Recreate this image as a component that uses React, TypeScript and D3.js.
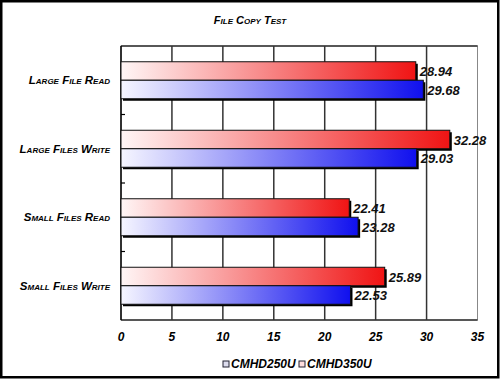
import React from "react";
import * as d3 from "d3";

const categories = ["Large File Read", "Large Files Write", "Small Files Read", "Small Files Write"];
const seriesNames = ["CMHD250U", "CMHD350U"];
const cmhd250u = [29.68, 29.03, 23.28, 22.53];
const cmhd350u = [28.94, 32.28, 22.41, 25.89];
const xTicks = [0, 5, 10, 15, 20, 25, 30, 35];
const title = "File Copy Test";

const W = 500;
const H = 379;
const FONT = "'Liberation Sans', 'DejaVu Sans', sans-serif";

export default function App() {
  const left = 121, right = 477.5, top = 46, bottom = 320;
  const x = d3.scaleLinear().domain([0, 35]).range([left, right]);
  const y = d3.scaleBand().domain(categories).range([top, bottom]);
  const bw = y.bandwidth();
  const barH = 18.5;

  const labelStyle = {
    fontFamily: FONT,
    fontWeight: "bold" as const,
    fontStyle: "italic" as const,
  };

  return (
    <div style={{ position: "absolute", left: 0, top: 0, width: W, height: H }}>
      <svg width={W} height={H} style={{ display: "block" }}>
        <defs>
          <linearGradient id="gRed" x1="0" y1="0" x2="1" y2="0">
            <stop offset="0" stopColor="#fff6f6" />
            <stop offset="1" stopColor="#f01414" />
          </linearGradient>
          <linearGradient id="gBlue" x1="0" y1="0" x2="1" y2="0">
            <stop offset="0" stopColor="#f6f6ff" />
            <stop offset="1" stopColor="#1010ee" />
          </linearGradient>
        </defs>
        <rect x={0} y={0} width={W} height={H} fill="#fff" />
        <rect x={1.25} y={1.25} width={W - 3} height={H - 3} fill="none" stroke="#000" strokeWidth={2.5} />

        <text x={250} y={24} textAnchor="middle" fontSize={11} {...labelStyle} style={{ fontVariant: "small-caps" }}>
          {title}
        </text>

        {/* plot frame */}
        <rect x={left} y={top} width={right - left} height={bottom - top} fill="#fff" stroke="#888" strokeWidth={1} />
        <line x1={left} x2={right} y1={top} y2={top} stroke="#333" strokeWidth={1.5} />
        <line x1={left} x2={right} y1={bottom} y2={bottom} stroke="#333" strokeWidth={1.5} />
        {xTicks.slice(1, -1).map((t) => (
          <line key={t} x1={x(t)} x2={x(t)} y1={top} y2={bottom} stroke="#333" strokeWidth={1.5} />
        ))}
        <line x1={left} x2={left} y1={top} y2={bottom} stroke="#000" strokeWidth={1.5} />
        {categories.slice(1).map((c) => (
          <line key={c} x1={left} x2={left + 4} y1={y(c)!} y2={y(c)!} stroke="#000" strokeWidth={1.2} />
        ))}

        {categories.map((c, i) => {
          const cy = y(c)! + bw / 2;
          const bars = [
            { v: cmhd350u[i], y0: cy - barH, fill: "url(#gRed)" },
            { v: cmhd250u[i], y0: cy, fill: "url(#gBlue)" },
          ];
          return (
            <g key={c}>
              {bars.map((b, j) => (
                <rect key={j} x={x(0) + 2} y={b.y0 + 2} width={x(b.v) - x(0)} height={barH} fill="#000" />
              ))}
              {bars.map((b, j) => (
                <g key={"b" + j}>
                  <rect x={x(0)} y={b.y0} width={x(b.v) - x(0)} height={barH} fill={b.fill} stroke="#111" strokeWidth={1} />
                  <text x={x(b.v) + 4} y={b.y0 + barH / 2 + 5} fontSize={13} {...labelStyle} fill="#111">
                    {b.v.toFixed(2)}
                  </text>
                </g>
              ))}
              <text x={110} y={cy + 4} textAnchor="end" fontSize={11.5} {...labelStyle} style={{ fontVariant: "small-caps" }}>
                {c}
              </text>
            </g>
          );
        })}

        {xTicks.map((t) => (
          <text key={t} x={x(t)} y={341} textAnchor="middle" fontSize={12} {...labelStyle}>
            {t}
          </text>
        ))}

        {/* legend */}
        {seriesNames.map((s, i) => {
          const lx = 223 + i * 76;
          return (
            <g key={s}>
              <rect x={lx} y={361} width={6} height={6} fill={i === 0 ? "#dde" : "#fdd"} stroke="#223" strokeWidth={1} />
              <text x={lx + 8} y={368} fontSize={12} {...labelStyle}>
                {s}
              </text>
            </g>
          );
        })}
      </svg>
    </div>
  );
}
